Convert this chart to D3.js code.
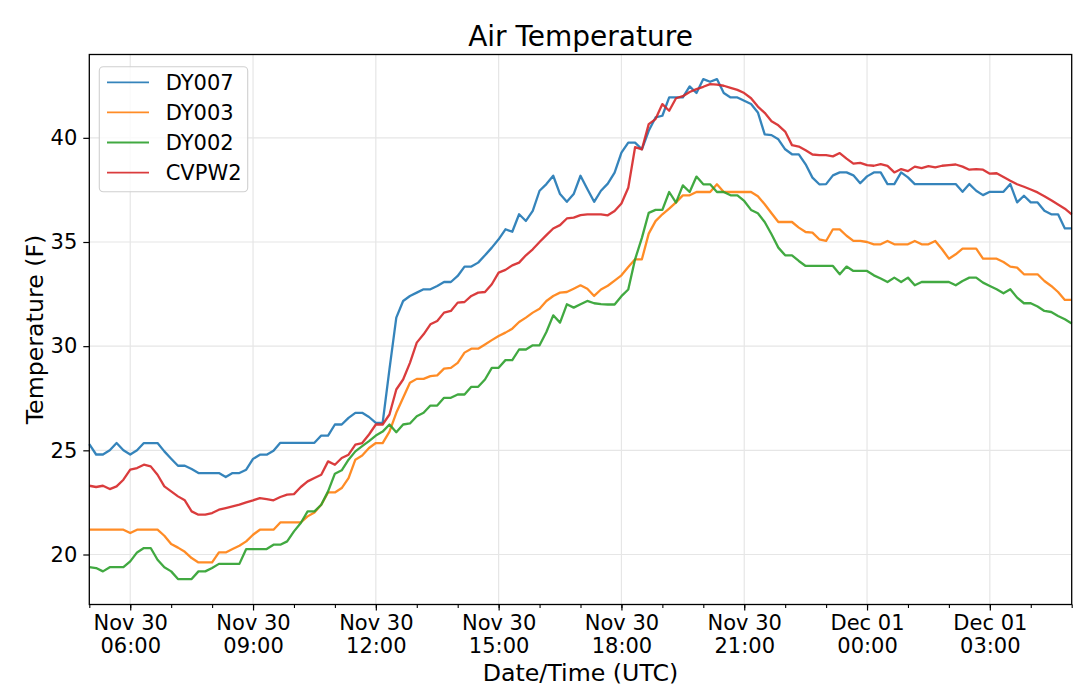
<!DOCTYPE html>
<html>
<head>
<meta charset="utf-8">
<script src="https://cdn.jsdelivr.net/npm/d3@7"></script>
<style>
  body { margin: 0; background: #fff; }
  svg { display: block; font-family: "DejaVu Sans", sans-serif; }
</style>
</head>
<body>
<svg id="chart" width="1080" height="691"></svg>
<script>
// readings every 10 minutes, 05:00 UTC Nov 30 -> 05:00 UTC Dec 01
const stations = ['DY007', 'DY003', 'DY002', 'CVPW2'];
const colors = ['#1f77b4', '#ff7f0e', '#2ca02c', '#d62728'];
const startTime = '2018-11-30T05:00:00Z';
const endTime = '2018-12-01T05:00:00Z';
const yTicks = [20, 25, 30, 35, 40];

const dy007 = [
  25.3, 24.8, 24.8, 25.0, 25.35, 25.0, 24.8, 25.0, 25.35, 25.35,
  25.35, 24.95, 24.6, 24.26, 24.26, 24.1, 23.91, 23.91, 23.91, 23.91,
  23.72, 23.91, 23.91, 24.07, 24.59, 24.79, 24.79, 24.98, 25.36, 25.36,
  25.36, 25.36, 25.36, 25.36, 25.71, 25.71, 26.24, 26.24, 26.56, 26.8,
  26.8, 26.6, 26.32, 26.32, 28.9, 31.37, 32.17, 32.41, 32.57, 32.73,
  32.73, 32.89, 33.08, 33.08, 33.37, 33.82, 33.82, 34.01, 34.36, 34.73,
  35.13, 35.61, 35.49, 36.33, 36.01, 36.49, 37.46, 37.78, 38.18, 37.3,
  36.93, 37.3, 38.18, 37.54, 36.93, 37.46, 37.8, 38.33, 39.29, 39.77,
  39.77, 39.45, 40.34, 40.98, 41.06, 41.94, 41.94, 41.94, 42.47, 42.15,
  42.82, 42.69, 42.82, 42.15, 41.94, 41.94, 41.78, 41.62, 41.22, 40.17,
  40.13, 39.93, 39.45, 39.21, 39.21, 38.73, 38.09, 37.77, 37.78, 38.2,
  38.34, 38.34, 38.2, 37.82, 38.15, 38.34, 38.34, 37.78, 37.78, 38.34,
  38.1, 37.78, 37.78, 37.78, 37.78, 37.78, 37.78, 37.78, 37.41, 37.78,
  37.46, 37.25, 37.41, 37.41, 37.41, 37.78, 36.9, 37.22, 36.9, 36.9,
  36.5, 36.33, 36.33, 35.65, 35.65
];
const dy003 = [
  21.19, 21.19, 21.19, 21.19, 21.19, 21.19, 21.03, 21.19, 21.19, 21.19,
  21.19, 20.9, 20.5, 20.33, 20.13, 19.83, 19.62, 19.62, 19.62, 20.1,
  20.1, 20.26, 20.42, 20.63, 20.95, 21.19, 21.19, 21.19, 21.54, 21.54,
  21.54, 21.54, 21.83, 22.02, 22.39, 22.98, 22.98, 23.19, 23.67, 24.55,
  24.75, 25.11, 25.35, 25.35, 25.9, 26.8, 27.52, 28.24, 28.43, 28.43,
  28.56, 28.6, 28.92, 28.96, 29.2, 29.69, 29.88, 29.88, 30.08, 30.29,
  30.49, 30.65, 30.84, 31.16, 31.37, 31.61, 31.8, 32.17, 32.41, 32.57,
  32.6, 32.76, 32.92, 32.76, 32.41, 32.72, 32.9, 33.15, 33.4, 33.8,
  34.17, 34.17, 35.4, 36.0, 36.33, 36.6, 36.9, 37.24, 37.24, 37.4,
  37.4, 37.4, 37.77, 37.4, 37.4, 37.4, 37.4, 37.4, 37.2, 36.81,
  36.38, 35.96, 35.96, 35.96, 35.69, 35.48, 35.45, 35.13, 35.05, 35.61,
  35.61, 35.3, 35.05, 35.05, 35.0, 34.89, 34.89, 35.05, 34.89, 34.89,
  34.89, 35.05, 34.89, 34.89, 35.05, 34.65, 34.2, 34.41, 34.68, 34.68,
  34.68, 34.2, 34.2, 34.2, 34.04, 33.82, 33.77, 33.45, 33.45, 33.45,
  33.13, 32.89, 32.6, 32.22, 32.22
];
const dy002 = [
  19.39, 19.35, 19.19, 19.39, 19.39, 19.39, 19.67, 20.1, 20.31, 20.31,
  19.75, 19.39, 19.19, 18.82, 18.82, 18.82, 19.19, 19.19, 19.35, 19.55,
  19.55, 19.55, 19.55, 20.26, 20.26, 20.26, 20.26, 20.47, 20.47, 20.63,
  21.11, 21.51, 22.07, 22.07, 22.39, 23.03, 23.88, 24.04, 24.55, 24.95,
  25.2, 25.44, 25.71, 25.9, 26.24, 25.87, 26.24, 26.29, 26.64, 26.8,
  27.15, 27.15, 27.52, 27.52, 27.68, 27.68, 28.05, 28.05, 28.4, 28.96,
  28.96, 29.33, 29.33, 29.84, 29.84, 30.04, 30.04, 30.68, 31.48, 31.13,
  32.01, 31.85, 32.01, 32.17, 32.06, 32.02, 32.0, 32.0, 32.4, 32.72,
  34.17, 35.2, 36.4, 36.54, 36.54, 37.4, 36.89, 37.72, 37.4, 38.14,
  37.77, 37.77, 37.4, 37.4, 37.24, 37.24, 36.97, 36.54, 36.38, 35.96,
  35.37, 34.73, 34.36, 34.36, 34.09, 33.85, 33.85, 33.85, 33.85, 33.85,
  33.45, 33.82, 33.61, 33.61, 33.61, 33.4, 33.25, 33.08, 33.29, 33.08,
  33.29, 32.92, 33.08, 33.08, 33.08, 33.08, 33.08, 32.92, 33.13, 33.29,
  33.29, 33.05, 32.89, 32.73, 32.54, 32.73, 32.33, 32.06, 32.06, 31.9,
  31.69, 31.64, 31.45, 31.29, 31.09
];
const cvpw2 = [
  23.3, 23.24, 23.3, 23.14, 23.27, 23.59, 24.07, 24.15, 24.31, 24.23,
  23.83, 23.27, 23.03, 22.79, 22.6, 22.07, 21.91, 21.91, 21.99, 22.15,
  22.23, 22.31, 22.39, 22.5, 22.6, 22.71, 22.66, 22.6, 22.76, 22.87,
  22.9, 23.24, 23.51, 23.67, 23.83, 24.47, 24.31, 24.63, 24.79, 25.27,
  25.35, 25.76, 26.24, 26.24, 26.72, 27.92, 28.4, 29.2, 30.17, 30.57,
  31.05, 31.21, 31.61, 31.69, 32.09, 32.12, 32.41, 32.57, 32.6, 32.97,
  33.53, 33.66, 33.88, 34.01, 34.36, 34.65, 35.0, 35.33, 35.65, 35.81,
  36.13, 36.17, 36.29, 36.33, 36.33, 36.33, 36.28, 36.49, 36.85, 37.6,
  39.55, 39.45, 40.66, 40.9, 41.62, 41.3, 41.9, 42.0, 42.2, 42.34,
  42.45, 42.58, 42.55, 42.5, 42.4, 42.3, 42.15, 41.9, 41.5, 41.2,
  40.8, 40.6, 40.3, 39.65, 39.58, 39.4, 39.2, 39.17, 39.17, 39.11,
  39.27, 39.0, 38.76, 38.8, 38.69, 38.66, 38.74, 38.65, 38.34, 38.5,
  38.4, 38.62, 38.55, 38.64, 38.58, 38.66, 38.69, 38.72, 38.62, 38.47,
  38.5, 38.47, 38.28, 38.3, 38.12, 37.94, 37.77, 37.65, 37.52, 37.38,
  37.2, 37.0, 36.8, 36.6, 36.33
];
const series = [dy007, dy003, dy002, cvpw2];

const svg = d3.select('#chart');
const plotLeft = 89.3, plotRight = 1071.7, plotTop = 54.5, plotBottom = 604.5;

const start = new Date(startTime);
const end = new Date(endTime);
const times = d3.utcMinute.every(10).range(start, d3.utcMinute.offset(end, 1));

const x = d3.scaleUtc().domain([start, end]).range([plotLeft, plotRight]);
const y = d3.scaleLinear().domain([17.6, 44.0]).range([plotBottom, plotTop]);

const majorTicks = d3.utcHour.every(3).range(start, end);
const minorTicks = d3.utcHour.every(1).range(start, d3.utcHour.offset(end, 1));

// grid
const grid = svg.append('g')
  .attr('stroke', '#e6e6e6')
  .attr('stroke-width', 1.2);
grid.selectAll('line.gx')
  .data(majorTicks)
  .join('line')
  .attr('class', 'gx')
  .attr('x1', d => x(d)).attr('x2', d => x(d))
  .attr('y1', plotTop).attr('y2', plotBottom);
grid.selectAll('line.gy')
  .data(yTicks)
  .join('line')
  .attr('class', 'gy')
  .attr('x1', plotLeft).attr('x2', plotRight)
  .attr('y1', d => y(d)).attr('y2', d => y(d));

// lines
const lineFunction = d3.line()
  .x((d, i) => x(times[i]))
  .y(d => y(d))
  .curve(d3.curveLinear);

svg.append('g')
  .selectAll('path')
  .data(series)
  .join('path')
  .attr('d', d => lineFunction(d))
  .attr('fill', 'none')
  .attr('stroke', (d, i) => colors[i])
  .attr('stroke-opacity', 0.9)
  .attr('stroke-width', 2.3)
  .attr('stroke-linejoin', 'round');

// axes
const xMinor = svg.append('g')
  .attr('transform', `translate(0,${plotBottom})`)
  .call(d3.axisBottom(x).tickValues(minorTicks).tickSize(3.5).tickFormat(''));
xMinor.select('.domain').remove();
xMinor.selectAll('line').attr('stroke-width', 1.1);

const fmtDay = d3.utcFormat('%b %d');
const fmtHour = d3.utcFormat('%H:%M');
const xAxis = svg.append('g')
  .attr('transform', `translate(0,${plotBottom})`)
  .call(d3.axisBottom(x).tickValues(majorTicks).tickSize(6).tickFormat(''));
xAxis.select('.domain').remove();
xAxis.selectAll('line').attr('stroke-width', 1.2);
xAxis.selectAll('.tick text').remove();
xAxis.selectAll('.tick').each(function (d) {
  const t = d3.select(this).append('text')
    .attr('fill', '#000')
    .attr('font-size', 21)
    .attr('font-family', '"DejaVu Sans", sans-serif')
    .attr('text-anchor', 'middle')
    .attr('y', 25.5);
  t.append('tspan').attr('x', 0).text(fmtDay(d));
  t.append('tspan').attr('x', 0).attr('dy', 23.3).text(fmtHour(d));
});

const yAxis = svg.append('g')
  .attr('transform', `translate(${plotLeft},0)`)
  .call(d3.axisLeft(y).tickValues(yTicks).tickSize(6).tickPadding(6));
yAxis.select('.domain').remove();
yAxis.selectAll('line').attr('stroke-width', 1.2);
yAxis.selectAll('text')
  .attr('font-size', 21)
  .attr('font-family', '"DejaVu Sans", sans-serif')
  .attr('fill', '#000');

// frame
svg.append('rect')
  .attr('x', plotLeft).attr('y', plotTop)
  .attr('width', plotRight - plotLeft).attr('height', plotBottom - plotTop)
  .attr('fill', 'none')
  .attr('stroke', '#000')
  .attr('stroke-width', 1.3);

// labels
svg.append('text')
  .attr('x', (plotLeft + plotRight) / 2).attr('y', 46)
  .attr('text-anchor', 'middle')
  .attr('font-size', 28)
  .text('Air Temperature');
svg.append('text')
  .attr('x', (plotLeft + plotRight) / 2).attr('y', 681)
  .attr('text-anchor', 'middle')
  .attr('font-size', 23.7)
  .text('Date/Time (UTC)');
svg.append('text')
  .attr('transform', `translate(42.5,${(plotTop + plotBottom) / 2}) rotate(-90)`)
  .attr('text-anchor', 'middle')
  .attr('font-size', 23.7)
  .text('Temperature (F)');

// legend
const legend = svg.append('g');
legend.append('rect')
  .attr('x', 99.3).attr('y', 66.7)
  .attr('width', 148.4).attr('height', 125)
  .attr('rx', 4)
  .attr('fill', '#fff').attr('fill-opacity', 0.8)
  .attr('stroke', '#d0d0d0').attr('stroke-width', 1.1);
const items = legend.selectAll('g.item')
  .data(stations)
  .join('g')
  .attr('class', 'item')
  .attr('transform', (d, i) => `translate(0,${82.3 + i * 30.1})`);
items.append('line')
  .attr('x1', 107).attr('x2', 149)
  .attr('stroke', (d, i) => colors[i])
  .attr('stroke-opacity', 0.9)
  .attr('stroke-width', 1.8);
items.append('text')
  .attr('x', 165.7).attr('y', 7.5)
  .attr('font-size', 21)
  .text(d => d);
</script>
</body>
</html>
